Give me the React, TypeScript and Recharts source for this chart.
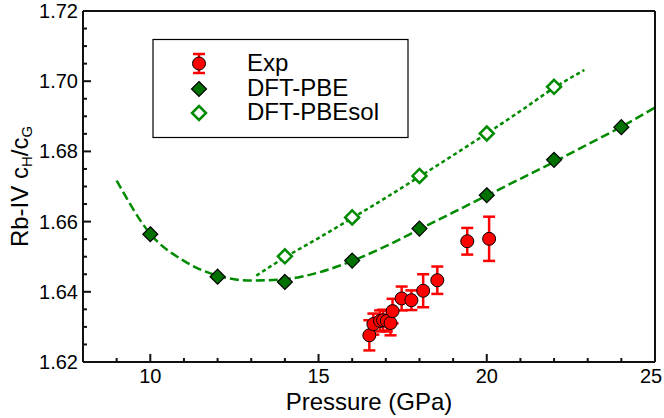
import React from 'react';
import { ComposedChart, Line, Scatter, XAxis, YAxis, ErrorBar } from 'recharts';

const FONT = '"Liberation Sans", Arial, Helvetica, sans-serif';

// axis ticks
const xTicks = [8, 9, 10, 11, 12, 13, 14, 15, 16, 17, 18, 19, 20, 21, 22, 23, 24, 25];
const xLabels = [10, 15, 20, 25];
const yTicks = [
  1.62, 1.625, 1.63, 1.635, 1.64, 1.645, 1.65, 1.655, 1.66, 1.665, 1.67,
  1.675, 1.68, 1.685, 1.69, 1.695, 1.7, 1.705, 1.71, 1.715, 1.72,
];
const yLabels = [1.62, 1.64, 1.66, 1.68, 1.7, 1.72];

// experiment
const expP = [16.51, 16.63, 16.83, 16.92, 17.03, 17.14, 17.2, 17.47, 17.76, 18.11, 18.53, 19.42, 20.07];
const expV = [1.6276, 1.6308, 1.6317, 1.6319, 1.6317, 1.6311, 1.6345, 1.6381, 1.6376, 1.6403, 1.6433, 1.6544, 1.6551];
const expErr = [0.0043, 0.003, 0.003, 0.003, 0.003, 0.0035, 0.0035, 0.0034, 0.0028, 0.0047, 0.0039, 0.0038, 0.0063];

// DFT-PBE points and fit
const pbeP = [10, 12, 14, 16, 18, 20, 22, 24];
const pbeV = [1.6564, 1.6443, 1.6428, 1.6489, 1.658, 1.6675, 1.6776, 1.6869];
const pbeFitP = [9, 10, 11, 12, 13, 14, 15, 16, 17, 18, 19, 20, 21, 22, 23, 24, 25];
const pbeFitV = [1.6717, 1.6565, 1.6488, 1.6446, 1.6432, 1.6436, 1.6455, 1.6488, 1.653, 1.6578, 1.6626, 1.6674, 1.6722, 1.677, 1.682, 1.687, 1.6925];

// DFT-PBEsol points and fit
const solP = [14, 16, 18, 20, 22];
const solV = [1.6501, 1.6612, 1.673, 1.6851, 1.6984];
const solFitP = [13.15, 14, 15, 16, 17, 18, 19, 20, 21, 22, 22.9];
const solFitV = [1.6446, 1.6498, 1.6553, 1.661, 1.6668, 1.6728, 1.6789, 1.6851, 1.6915, 1.6981, 1.7032];

const expData = expP.map((p, i) => ({ p, v: expV[i], err: expErr[i] }));
const pbeData = pbeP.map((p, i) => ({ p, v: pbeV[i] }));
const pbeFit = pbeFitP.map((p, i) => ({ p, v: pbeFitV[i] }));
const solData = solP.map((p, i) => ({ p, v: solV[i] }));
const solFit = solFitP.map((p, i) => ({ p, v: solFitV[i] }));

const GREEN = '#008a00';
const INK = '#111';
const TICK_W = 2;

const inList = (list: number[], v: number) => list.some((t) => Math.abs(t - v) < 1e-6);

const BottomTick = (props: any) => {
  const { x, y, payload } = props;
  const major = inList(xLabels, payload.value);
  // last label sits at the right edge, nudge it in a little like the original
  const lx = payload.value === 25 ? x - 4 : x;
  return (
    <g>
      <line x1={x} y1={y} x2={x} y2={y - (major ? 8 : 4)} stroke={INK} strokeWidth={TICK_W} />
      {major && (
        <text x={lx} y={y + 21} textAnchor="middle" fontSize={20} fontFamily={FONT} fill="#000">
          {payload.value}
        </text>
      )}
    </g>
  );
};

const TopTick = (props: any) => {
  const { x, y, payload } = props;
  const major = inList(xLabels, payload.value);
  return <line x1={x} y1={y} x2={x} y2={y + (major ? 8 : 4)} stroke={INK} strokeWidth={TICK_W} />;
};

const LeftTick = (props: any) => {
  const { x, y, payload } = props;
  const major = inList(yLabels, payload.value);
  return (
    <g>
      <line x1={x} y1={y} x2={x + (major ? 8 : 4)} y2={y} stroke={INK} strokeWidth={TICK_W} />
      {major && (
        <text x={x - 5} y={y + 7} textAnchor="end" fontSize={20} fontFamily={FONT} fill="#000">
          {payload.value.toFixed(2)}
        </text>
      )}
    </g>
  );
};

const RightTick = (props: any) => {
  const { x, y, payload } = props;
  const major = inList(yLabels, payload.value);
  return <line x1={x} y1={y} x2={x - (major ? 8 : 4)} y2={y} stroke={INK} strokeWidth={TICK_W} />;
};

const FilledDiamond = (props: any) => {
  const { cx, cy } = props;
  const h = 7.5;
  return (
    <polygon
      points={`${cx},${cy - h} ${cx + h},${cy} ${cx},${cy + h} ${cx - h},${cy}`}
      fill="#007000"
      stroke="#000"
      strokeWidth={1.2}
    />
  );
};

const OpenDiamond = (props: any) => {
  const { cx, cy } = props;
  const h = 7;
  return (
    <polygon
      points={`${cx},${cy - h} ${cx + h},${cy} ${cx},${cy + h} ${cx - h},${cy}`}
      fill="#fff"
      stroke={GREEN}
      strokeWidth={2.5}
    />
  );
};

const ExpDot = (props: any) => {
  const { cx, cy } = props;
  return <circle cx={cx} cy={cy} r={6.5} fill="#ff0000" stroke="#000" strokeWidth={1} />;
};

const XTitle = (props: any) => {
  const vb = props.viewBox || {};
  return (
    <text x={vb.x + vb.width / 2} y={vb.y + 48} textAnchor="middle" fontSize={24} fontFamily={FONT} fill="#000">
      Pressure (GPa)
    </text>
  );
};

// y title, plus the boxed legend drawn inside the chart svg
const YTitle = (props: any) => {
  const vb = props.viewBox || {};
  const cx = 28;
  const cy = vb.y + vb.height / 2;
  return (
    <g>
      <text
        x={cx}
        y={cy}
        transform={`rotate(-90, ${cx}, ${cy})`}
        textAnchor="middle"
        fontSize={24}
        fontFamily={FONT}
        fill="#000"
      >
        Rb-IV c<tspan fontSize={15} dy={4}>H</tspan>
        <tspan dy={-4}>/c</tspan>
        <tspan fontSize={15} dy={4}>G</tspan>
      </text>
      <rect x={153} y={39.5} width={255} height={98} fill="#fff" stroke="#000" strokeWidth={1.2} />
      <g stroke="#ff0000" strokeWidth={2.5}>
        <line x1={199} y1={54} x2={199} y2={73} />
        <line x1={193} y1={54} x2={205} y2={54} />
        <line x1={193} y1={73} x2={205} y2={73} />
      </g>
      <ExpDot cx={199} cy={63.5} />
      <FilledDiamond cx={199} cy={89} />
      <OpenDiamond cx={199} cy={113} />
      <g fontSize={24} fontFamily={FONT} fill="#000">
        <text x={247} y={71}>Exp</text>
        <text x={247} y={95.5}>DFT-PBE</text>
        <text x={247} y={120}>DFT-PBEsol</text>
      </g>
    </g>
  );
};

export default function App() {
  return (
    <div style={{ position: 'absolute', left: 0, top: 0, width: 664, height: 418, background: '#fff' }}>
      <ComposedChart width={664} height={418} margin={{ top: 0, right: 0, bottom: 0, left: 0 }}>
        <XAxis
          type="number"
          dataKey="p"
          domain={[8, 25]}
          ticks={xTicks}
          interval={0}
          height={56}
          tickSize={0}
          tickMargin={0}
          tickLine={false}
          tick={<BottomTick />}
          stroke={INK}
          strokeWidth={2}
          label={<XTitle />}
        />
        <XAxis
          xAxisId="top"
          orientation="top"
          type="number"
          dataKey="p"
          domain={[8, 25]}
          ticks={xTicks}
          interval={0}
          height={11}
          tickSize={0}
          tickMargin={0}
          tickLine={false}
          tick={<TopTick />}
          stroke={INK}
          strokeWidth={2}
        />
        <YAxis
          type="number"
          dataKey="v"
          domain={[1.62, 1.72]}
          ticks={yTicks}
          interval={0}
          width={83}
          tickSize={0}
          tickMargin={0}
          tickLine={false}
          tick={<LeftTick />}
          stroke={INK}
          strokeWidth={2}
          label={<YTitle />}
        />
        <YAxis
          yAxisId="right"
          orientation="right"
          type="number"
          dataKey="v"
          domain={[1.62, 1.72]}
          ticks={yTicks}
          interval={0}
          width={9}
          tickSize={0}
          tickMargin={0}
          tickLine={false}
          tick={<RightTick />}
          stroke={INK}
          strokeWidth={2}
        />
        <Line
          data={pbeFit}
          dataKey="v"
          type="monotone"
          stroke={GREEN}
          strokeWidth={2.5}
          strokeDasharray="9 4"
          dot={false}
          activeDot={false}
          isAnimationActive={false}
        />
        <Line
          data={solFit}
          dataKey="v"
          type="monotone"
          stroke={GREEN}
          strokeWidth={2.5}
          strokeDasharray="4 3"
          dot={false}
          activeDot={false}
          isAnimationActive={false}
        />
        <Scatter data={pbeData} dataKey="v" shape={<FilledDiamond />} isAnimationActive={false} />
        <Scatter data={solData} dataKey="v" shape={<OpenDiamond />} isAnimationActive={false} />
        <Scatter data={expData} dataKey="v" shape={<ExpDot />} isAnimationActive={false}>
          <ErrorBar dataKey="err" direction="y" width={6} stroke="#ff0000" strokeWidth={2.5} isAnimationActive={false} />
        </Scatter>
      </ComposedChart>
    </div>
  );
}
